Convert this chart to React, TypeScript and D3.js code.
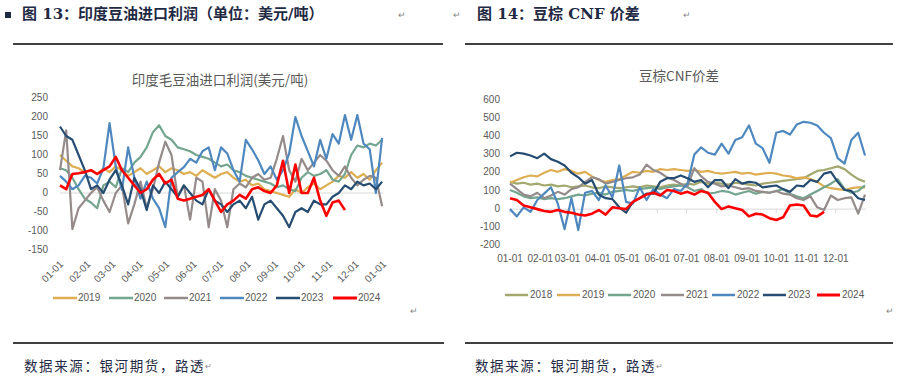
import React from "react";
import * as d3 from "d3";

// weekly samples (index * 7 = day of year)
const monthDays = [0, 31, 59, 90, 120, 151, 181, 212, 243, 273, 304, 334, 365];
const monthLabels = ["01-01", "02-01", "03-01", "04-01", "05-01", "06-01", "07-01", "08-01", "09-01", "10-01", "11-01", "12-01", "01-01"];

// 图13 印度豆油进口利润
const profitTicks = [250, 200, 150, 100, 50, 0, -50, -100, -150];
const profit2019 = [100, 85, 70, 65, 55, 60, 50, 65, 55, 70, 60, 45, 55, 65, 50, 60, 70, 55, 65, 60, 50, 55, 45, 60, 50, 40, 50, 55, 40, 30, 35, 20, 25, 10, 5, 0, -5, -10, 10, 0, 15, 25, 10, 20, 30, 45, 40, 55, 40, 50, 35, 60, 80];
const profit2020 = [65, 60, 40, 10, -15, -25, -40, 20, 30, 15, 65, 55, 80, 95, 120, 160, 178, 150, 140, 120, 115, 110, 100, 95, 90, 80, 70, 75, 60, 55, 45, 40, 35, 30, 25, 15, 20, 10, 5, 40, 55, 45, 50, 60, 35, 30, 50, 100, 125, 120, 130, 125, 140];
const profit2021 = [60, 165, -95, -40, -20, 0, 15, -20, -50, 0, 20, -80, -30, 30, -40, 10, 80, 135, 100, -10, 20, -70, 40, 30, -90, 10, -20, -90, 10, 25, 15, 40, 50, 35, 40, 90, 150, 60, 30, 90, 60, 80, 100, 85, 60, 45, 70, 40, 20, 35, 45, 40, -35];
const profit2022 = [45, 30, 10, 20, 45, 40, 25, 65, 184, 70, 8, 120, 40, -15, 30, -15, -40, -90, 40, 55, 68, 90, 80, 110, 120, 60, 120, 104, 60, 30, 140, 115, 86, 50, 70, 35, 60, 104, 200, 150, 110, 70, 140, 90, 155, 130, 205, 140, 205, 130, 115, 0, 145];
const profit2023 = [175, 150, 140, 100, 60, 10, 20, 0, 35, 60, 20, -30, 40, 10, -45, 20, 0, 30, 10, -10, 20, 0, -20, -30, 10, -20, -30, -50, -30, -20, -40, -10, -70, -30, -20, -40, -60, -90, -50, -40, -50, -20, -30, -30, -10, 0, 20, 10, 30, 20, 25, 10, 30];
const profit2024 = [20, 10, 50, 52, 55, 60, 50, 60, 70, 95, 60, 40, 20, 0, 10, 35, 50, 25, 35, -15, -20, -15, -10, -5, 10, -20, -50, -30, -20, -5, -15, 10, 15, 5, 0, 20, 85, 0, 75, 0, 0, 40, -20, -60, -25, -20, -45];

// 图14 豆棕CNF价差
const spreadTicks = [600, 500, 400, 300, 200, 100, 0, -100, -200];
const spread2018 = [150, 140, 145, 135, 140, 130, 135, 125, 130, 120, 125, 130, 120, 115, 125, 120, 115, 120, 125, 120, 130, 125, 120, 130, 135, 130, 140, 135, 150, 140, 145, 140, 135, 145, 140, 135, 130, 140, 145, 150, 155, 160, 165, 170, 190, 210, 215, 225, 235, 220, 190, 165, 150];
const spread2019 = [145, 160, 175, 185, 180, 200, 215, 205, 220, 210, 195, 205, 180, 160, 150, 160, 165, 185, 205, 200, 210, 205, 220, 215, 220, 215, 210, 215, 205, 210, 200, 195, 200, 205, 195, 200, 190, 195, 200, 195, 185, 180, 170, 175, 165, 150, 125, 115, 110, 105, 115, 120, 120];
const spread2020 = [105, 90, 70, 60, 65, 55, 60, 55, 60, 70, 80, 75, 85, 90, 80, 95, 100, 105, 100, 110, 115, 120, 110, 120, 125, 130, 120, 100, 110, 85, 90, 100, 95, 80, 90, 100, 85, 95, 90, 100, 110, 85, 70, 60, 80, 100, 120, 140, 165, 110, 90, 100, 130];
const spread2021 = [140, 110, 80, 70, 90, 60, 75, 95, 80, 110, 120, 150, 175, 165, 140, 150, 160, 170, 175, 190, 245, 215, 200, 175, 160, 140, 125, 225, 180, 150, 140, 125, 130, 120, 110, 115, 100, 95, 90, 100, 85, 80, 60, 50, 70, 10, -5, 75, 50, 60, 65, -25, 80];
const spread2022 = [0, -40, 10, -15, 50, 85, 120, 30, -110, 60, -115, 90, 100, 50, 130, 65, 240, 40, 30, 120, 50, 110, 80, 60, 110, 100, 140, 300, 340, 310, 300, 360, 305, 380, 395, 460, 360, 335, 255, 420, 430, 410, 465, 480, 475, 460, 420, 390, 280, 250, 380, 420, 295];
const spread2023 = [290, 310, 305, 295, 280, 305, 275, 260, 240, 200, 175, 140, 160, 80, 60, 55, 10, -20, 40, 60, 85, 85, 150, 170, 170, 185, 170, 150, 160, 120, 160, 160, 115, 165, 140, 150, 145, 120, 125, 130, 110, 95, 130, 125, 160, 150, 195, 205, 150, 105, 100, 60, 50];
const spread2024 = [60, 50, 20, 10, 0, -10, -15, -5, -15, -20, -30, -35, -25, -5, -30, 10, 5, 0, 40, 60, 80, 90, 75, 105, 100, 85, 95, 80, 100, 90, 40, 0, 15, 5, -5, -40, -25, -30, -50, -60, -45, 20, 25, 20, -35, -40, -15];

const colors: Record<string, string> = {
  "2018": "#A3A86E",
  "2019": "#DDAE52",
  "2020": "#73A58F",
  "2021": "#958B8A",
  "2022": "#4E88BE",
  "2023": "#264D71",
  "2024": "#FF0000",
};

const leftSeries = [
  { name: "2019", values: profit2019 },
  { name: "2020", values: profit2020 },
  { name: "2021", values: profit2021 },
  { name: "2022", values: profit2022 },
  { name: "2023", values: profit2023 },
  { name: "2024", values: profit2024 },
];
const rightSeries = [
  { name: "2018", values: spread2018 },
  { name: "2019", values: spread2019 },
  { name: "2020", values: spread2020 },
  { name: "2021", values: spread2021 },
  { name: "2022", values: spread2022 },
  { name: "2023", values: spread2023 },
  { name: "2024", values: spread2024 },
];

const numFont = "'Liberation Sans', Arial, sans-serif";
const cjkFont = "'Noto Sans CJK SC', sans-serif";
const headFont = "'DejaVu Serif', 'Noto Sans CJK SC', serif";
const axisGray = "#595959";
const ink = "#1F2A44";

function LeftChart() {
  const x = d3.scaleLinear().domain([0, 365]).range([60, 383]);
  const y = d3.scaleLinear().domain([-150, 250]).range([250, 98]);
  const line = d3
    .line<number>()
    .x((d, i) => x(i * 7))
    .y((d) => y(d))
    .curve(d3.curveLinear);
  const legendX = [53, 109, 164, 220, 276, 333];
  return (
    <g>
      <text x={220} y={81} textAnchor="middle" dominantBaseline="middle" fontFamily={cjkFont} fontSize={13.5} fill={axisGray}>
        印度毛豆油进口利润(美元/吨)
      </text>
      {profitTicks.map((t) => (
        <text key={t} x={48} y={y(t)} textAnchor="end" dominantBaseline="middle" fontFamily={numFont} fontSize={10} fill={axisGray}>
          {t}
        </text>
      ))}
      <line x1={x(0)} x2={x(365)} y1={y(0)} y2={y(0)} stroke="#D9D9D9" strokeWidth={1} />
      {monthDays.map((d, i) => (
        <text
          key={i}
          transform={`translate(${x(d) + 2},${263}) rotate(-45)`}
          textAnchor="end"
          dominantBaseline="middle"
          fontFamily={numFont}
          fontSize={10}
          fill={axisGray}
        >
          {monthLabels[i]}
        </text>
      ))}
      {leftSeries.map((s) => (
        <path key={s.name} d={line(s.values) || ""} fill="none" stroke={colors[s.name]} strokeWidth={s.name === "2024" ? 2.6 : 2.2} strokeLinejoin="round" />
      ))}
      {leftSeries.map((s, i) => (
        <g key={s.name}>
          <line x1={legendX[i]} x2={legendX[i] + 24} y1={298} y2={298} stroke={colors[s.name]} strokeWidth={s.name === "2024" ? 3 : 2.5} />
          <text x={legendX[i] + 25} y={298} dominantBaseline="middle" fontFamily={numFont} fontSize={10} fill={axisGray}>
            {s.name}
          </text>
        </g>
      ))}
    </g>
  );
}

function RightChart() {
  const x = d3.scaleLinear().domain([0, 365]).range([510, 866]);
  const y = d3.scaleLinear().domain([-200, 600]).range([245.5, 100]);
  const line = d3
    .line<number>()
    .x((d, i) => x(i * 7))
    .y((d) => y(d));
  const legendX = [505, 557, 608, 661, 712, 763, 817];
  return (
    <g>
      <text x={679} y={77} textAnchor="middle" dominantBaseline="middle" fontFamily={cjkFont} fontSize={13.5} fill={axisGray}>
        豆棕CNF价差
      </text>
      {spreadTicks.map((t) => (
        <text key={t} x={500} y={y(t)} textAnchor="end" dominantBaseline="middle" fontFamily={numFont} fontSize={10} fill={axisGray}>
          {t}
        </text>
      ))}
      <line x1={x(0)} x2={x(365)} y1={y(0)} y2={y(0)} stroke="#D9D9D9" strokeWidth={1} />
      {monthDays.slice(0, 12).map((d, i) => (
        <g key={i}>
          <line x1={x(d)} x2={x(d)} y1={y(0)} y2={y(0) + 4} stroke="#D9D9D9" />
          <text x={x(d)} y={259} textAnchor="middle" dominantBaseline="middle" fontFamily={numFont} fontSize={10} fill={axisGray}>
            {monthLabels[i]}
          </text>
        </g>
      ))}
      {rightSeries.map((s) => (
        <path key={s.name} d={line(s.values) || ""} fill="none" stroke={colors[s.name]} strokeWidth={s.name === "2024" ? 2.6 : 2.2} strokeLinejoin="round" />
      ))}
      {rightSeries.map((s, i) => (
        <g key={s.name}>
          <line x1={legendX[i]} x2={legendX[i] + 23} y1={295} y2={295} stroke={colors[s.name]} strokeWidth={s.name === "2024" ? 3 : 2.5} />
          <text x={legendX[i] + 25} y={295} dominantBaseline="middle" fontFamily={numFont} fontSize={10} fill={axisGray}>
            {s.name}
          </text>
        </g>
      ))}
    </g>
  );
}

export default function App() {
  return (
    <svg width={898} height={387} style={{ position: "absolute", left: 0, top: 0, background: "#fff" }}>
      <rect width={898} height={387} fill="#fff" />
      {/* headers */}
      <rect x={5} y={12} width={6} height={6} fill={ink} />
      <text x={22} y={15} dominantBaseline="middle" fontFamily={headFont} fontWeight="bold" fontSize={15} fill={ink}>
        图 13：印度豆油进口利润（单位：美元/吨）
      </text>
      <text x={398} y={16} dominantBaseline="middle" fontFamily={numFont} fontSize={9} fill="#888">↵</text>
      <text x={453} y={16} dominantBaseline="middle" fontFamily={numFont} fontSize={9} fill="#888">↵</text>
      <text x={477} y={15} dominantBaseline="middle" fontFamily={headFont} fontWeight="bold" fontSize={15} fill={ink}>
        图 14：豆棕 CNF 价差
      </text>
      <text x={683} y={16} dominantBaseline="middle" fontFamily={numFont} fontSize={9} fill="#888">↵</text>
      <line x1={13} x2={443} y1={44} y2={44} stroke="#000" strokeWidth={1.3} />
      <line x1={465} x2={893} y1={44} y2={44} stroke="#000" strokeWidth={1.3} />

      <LeftChart />
      <RightChart />

      <text x={410} y={312} dominantBaseline="middle" fontFamily={numFont} fontSize={9} fill="#888">↵</text>
      <text x={886} y={312} dominantBaseline="middle" fontFamily={numFont} fontSize={9} fill="#888">↵</text>

      {/* footers */}
      <line x1={13} x2={444} y1={343} y2={343} stroke="#000" strokeWidth={1.3} />
      <line x1={465} x2={893} y1={343} y2={343} stroke="#000" strokeWidth={1.3} />
      <text x={24} y={367} dominantBaseline="middle" fontFamily={cjkFont} fontSize={13.5} letterSpacing={1.6} fill={ink}>
        数据来源：银河期货，路透<tspan fontSize={8} fill="#888">↵</tspan>
      </text>
      <text x={475} y={367} dominantBaseline="middle" fontFamily={cjkFont} fontSize={13.5} letterSpacing={1.6} fill={ink}>
        数据来源：银河期货，路透<tspan fontSize={8} fill="#888">↵</tspan>
      </text>
    </svg>
  );
}
